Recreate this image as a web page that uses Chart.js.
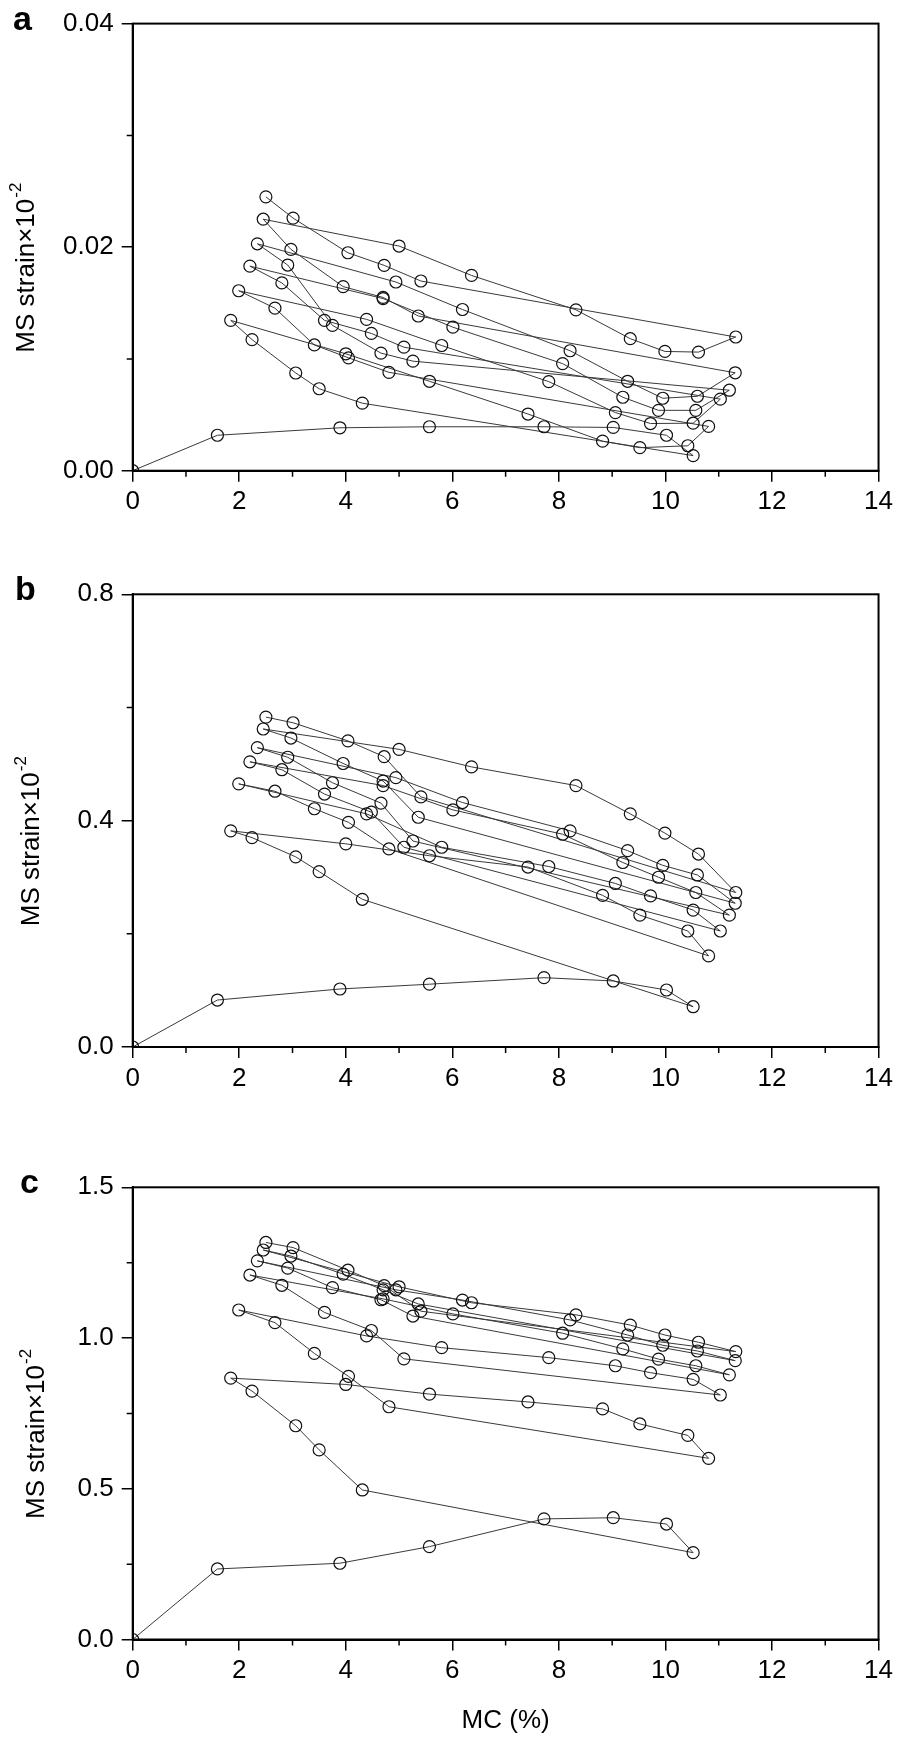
<!DOCTYPE html>
<html>
<head>
<meta charset="utf-8">
<script src="https://cdn.jsdelivr.net/npm/chart.js@4.4.1/dist/chart.umd.min.js"></script>
<style>
html,body{margin:0;padding:0;background:#fff;}
body{width:898px;height:1741px;position:relative;overflow:hidden;}
.panel{position:absolute;left:0;width:898px;}
canvas{display:block;}
</style>
</head>
<body>
<div class="panel" style="top:0px;height:560px"><canvas id="chartA" width="898" height="560"></canvas></div>
<div class="panel" style="top:560px;height:580px"><canvas id="chartB" width="898" height="580"></canvas></div>
<div class="panel" style="top:1140px;height:601px"><canvas id="chartC" width="898" height="601"></canvas></div>
<script>
// moisture content (%), same sequence for all three panels:
// adsorption 1, desorption 1, adsorption 2, ... desorption 6
const mc = [
    0, 1.59, 3.89, 5.57, 7.72, 9.02, 10.02, 10.52,
    4.31, 3.50, 3.06, 2.24, 1.84,
    4.00, 5.57, 7.42, 8.82, 9.52, 10.42, 10.81,
    4.81, 4.05, 3.41, 2.67, 1.99,
    4.39, 5.80, 7.81, 9.06, 9.72, 10.52, 11.03,
    5.09, 4.48, 3.60, 2.80, 2.20,
    4.70, 6.01, 8.07, 9.20, 9.87, 10.57, 11.20,
    5.26, 4.66, 3.75, 2.91, 2.34,
    4.94, 6.19, 8.21, 9.29, 9.95, 10.60, 11.31,
    5.36, 4.70, 3.95, 2.97, 2.45,
    5.00, 6.36, 8.32, 9.34, 9.99, 10.62, 11.32,
    5.41, 4.72, 4.04, 3.01, 2.50
];

const strainA = [
    0, .00317, .00384, .00393, .00393, .00387, .00317, .00135,
    .00604, .00733, .00874, .01173, .01345,
    .01046, .0080, .00507, .00264, .00206, .00223, .00396,
    .0088, .0101, .01125, .01454, .0161,
    .01354, .0112, .00797, .0052, .00422, .00425, .0064,
    .01105, .01228, .01345, .0168, .0183,
    .0154, .01284, .00958, .00657, .0054, .0054, .0072,
    .0098, .01052, .0130, .0184, .0203,
    .01688, .01442, .01073, .0080, .00648, .00666, .00876,
    .01384, .0155, .01647, .0198, .0225,
    .0201, .01747, .01439, .01181, .01067, .01061, .01196,
    .01697, .01837, .0195, .0226, .0245
];

const strainB = [
    0, .083, .1025, .111, .1225, .1167, .1007, .0712,
    .261, .310, .336, .370, .382,
    .359, .338, .318, .268, .233, .205, .161,
    .350, .397, .421, .452, .465,
    .412, .353, .319, .289, .267, .242, .205,
    .353, .415, .447, .490, .504,
    .462, .419, .376, .326, .300, .273, .233,
    .364, .431, .467, .512, .529,
    .476, .432, .382, .347, .321, .304, .254,
    .406, .470, .501, .546, .562,
    .526, .495, .462, .412, .378, .341, .273,
    .442, .513, .541, .573, .583
];

const strainC = [
    0, .234, .253, .308, .400, .404, .383, .288,
    .496, .629, .709, .824, .867,
    .846, .814, .788, .765, .715, .677, .601,
    .772, .873, .949, 1.051, 1.093,
    1.007, .968, .935, .908, .885, .863, .811,
    .931, 1.025, 1.085, 1.175, 1.209,
    1.13, 1.080, 1.016, .964, .930, .908, .878,
    1.073, 1.127, 1.167, 1.232, 1.256,
    1.16, 1.126, 1.060, 1.010, .976, .957, .925,
    1.113, 1.16, 1.212, 1.272, 1.292,
    1.170, 1.117, 1.077, 1.043, 1.010, .986, .955,
    1.089, 1.174, 1.225, 1.300, 1.317
];

const xTicks = [0, 2, 4, 6, 8, 10, 12, 14];
const xMinor = [1, 3, 5, 7, 9, 11, 13];
const yTicksA = [0, 0.02, 0.04], yMinorA = [0.01, 0.03];
const yTicksB = [0, 0.4, 0.8],  yMinorB = [0.2, 0.6];
const yTicksC = [0, 0.5, 1.0, 1.5], yMinorC = [0.25, 0.75, 1.25];

const yTitle = "MS strain\u00d710";
const yTitleSup = "-2";
const xTitle = "MC (%)";
const FONT = '"Liberation Sans", Arial, sans-serif';

// frame, minor ticks, axis titles and panel letter
const decor = {
    id: "decor",
    afterDraw(chart, args, o) {
        const ctx = chart.ctx, a = chart.chartArea;
        const xs = chart.scales.x, ys = chart.scales.y;
        ctx.save();
        ctx.strokeStyle = "#000";
        ctx.lineWidth = 1.5;
        ctx.beginPath();
        o.xMinor.forEach(v => {
            const px = xs.getPixelForValue(v);
            ctx.moveTo(px, a.bottom); ctx.lineTo(px, a.bottom + 6);
        });
        o.yMinor.forEach(v => {
            const py = ys.getPixelForValue(v);
            ctx.moveTo(a.left, py); ctx.lineTo(a.left - 6, py);
        });
        ctx.stroke();
        ctx.lineWidth = 2;
        ctx.strokeRect(a.left, a.top, a.right - a.left, a.bottom - a.top);

        // y title, rotated
        ctx.fillStyle = "#000";
        ctx.translate(o.titleX, (a.top + a.bottom) / 2 + 21);
        ctx.rotate(-Math.PI / 2);
        ctx.font = "26px " + FONT;
        const w1 = ctx.measureText(yTitle).width;
        ctx.font = "17px " + FONT;
        const w2 = ctx.measureText(yTitleSup).width;
        const x0 = -(w1 + w2) / 2;
        ctx.textBaseline = "alphabetic";
        ctx.textAlign = "left";
        ctx.font = "26px " + FONT;
        ctx.fillText(yTitle, x0, 0);
        ctx.font = "17px " + FONT;
        ctx.fillText(yTitleSup, x0 + w1 + 1, -13);
        ctx.setTransform(1, 0, 0, 1, 0, 0);

        // panel letter
        ctx.font = "bold 34px " + FONT;
        ctx.textAlign = "left";
        ctx.fillText(o.letter, o.letterX, a.top + 6);

        if (o.showXTitle) {
            ctx.font = "26px " + FONT;
            ctx.textAlign = "center";
            ctx.textBaseline = "middle";
            ctx.fillText(xTitle, (a.left + a.right) / 2, o.xTitleY);
        }
        ctx.restore();
    }
};

function makePanel(id, strain, yTicks, yMinor, decimals, opt) {
    const pts = mc.map((x, i) => ({ x: x, y: strain[i] }));
    return new Chart(document.getElementById(id), {
        type: "line",
        data: {
            datasets: [{
                data: pts,
                borderColor: "#3a3a3a",
                borderWidth: 1,
                pointStyle: "circle",
                pointRadius: 6,
                pointBorderWidth: 1.2,
                pointBorderColor: "#111",
                pointBackgroundColor: "rgba(0,0,0,0)",
                tension: 0,
                clip: 0
            }]
        },
        options: {
            responsive: false,
            animation: false,
            layout: { padding: { left: 0, right: 18, top: opt.top, bottom: 0 } },
            plugins: { legend: { display: false }, tooltip: { enabled: false }, decor: opt },
            scales: {
                x: {
                    type: "linear", min: 0, max: 14,
                    afterFit: s => { s.height = opt.xAxisH; },
                    afterBuildTicks: s => { s.ticks = xTicks.map(v => ({ value: v })); },
                    ticks: { color: "#000", font: { size: 26, family: FONT }, padding: 5, maxRotation: 0, callback: v => String(v) },
                    grid: { drawOnChartArea: false, drawTicks: true, tickLength: 11, color: "#000", lineWidth: 1.5 },
                    border: { display: true, color: "#000", width: 2 }
                },
                y: {
                    type: "linear", min: 0, max: yTicks[yTicks.length - 1],
                    afterFit: s => { s.width = 132.7; },
                    afterBuildTicks: s => { s.ticks = yTicks.map(v => ({ value: v })); },
                    ticks: { color: "#000", font: { size: 26, family: FONT }, padding: 8, callback: v => v.toFixed(decimals) },
                    grid: { drawOnChartArea: false, drawTicks: true, tickLength: 11, color: "#000", lineWidth: 1.5 },
                    border: { display: true, color: "#000", width: 2 }
                }
            }
        },
        plugins: [decor]
    });
}

makePanel("chartA", strainA, yTicksA, yMinorA, 2,
    { top: 15.7, xAxisH: 89.3, xMinor: xMinor, yMinor: yMinorA, titleX: 34, letter: "a", letterX: 13, showXTitle: false });
makePanel("chartB", strainB, yTicksB, yMinorB, 1,
    { top: 34.3, xAxisH: 93, xMinor: xMinor, yMinor: yMinorB, titleX: 39, letter: "b", letterX: 15, showXTitle: false });
makePanel("chartC", strainC, yTicksC, yMinorC, 1,
    { top: 47.3, xAxisH: 101.5, xMinor: xMinor, yMinor: yMinorC, titleX: 44, letter: "c", letterX: 20, showXTitle: true, xTitleY: 581 });
</script>
</body>
</html>
